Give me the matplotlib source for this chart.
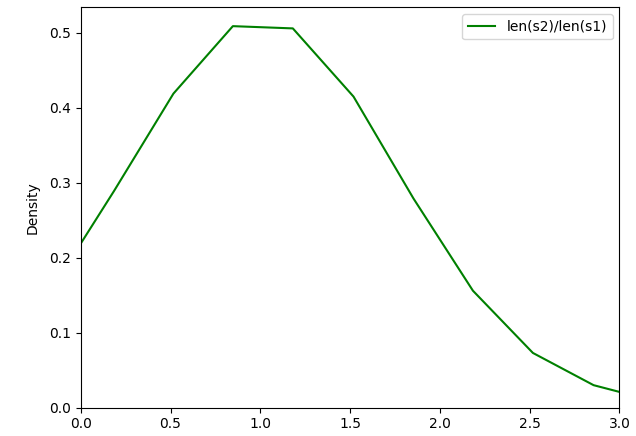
import matplotlib
matplotlib.use("Agg")
import matplotlib.pyplot as plt

# density curve of len(s2)/len(s1)
ratio = [0.0, 0.185, 0.516, 0.847, 1.181, 1.519, 1.853, 2.184, 2.518, 2.856, 3.0]
density = [0.219, 0.289, 0.419, 0.509, 0.506, 0.415, 0.279, 0.156, 0.073, 0.030, 0.021]

fig = plt.figure(figsize=(6.36, 4.36), dpi=100)
ax = fig.add_axes([0.127, 0.065, 0.847, 0.918])
ax.plot(ratio, density, color="green", label="len(s2)/len(s1)")
ax.set_xlim(0, 3)
ax.set_ylim(0, 0.534)
ax.set_ylabel("Density", labelpad=7)
ax.legend(loc="upper right")
fig.savefig("out.png", dpi=100)
plt.close(fig)
